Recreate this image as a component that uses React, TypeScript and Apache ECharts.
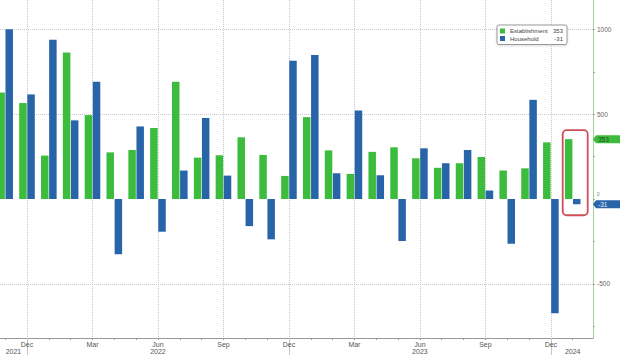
import React, { useEffect, useRef } from 'react';
import * as echarts from 'echarts';

// Monthly categories: Nov 2021 .. Jan 2024
const months = ['Nov','Dec','Jan','Feb','Mar','Apr','May','Jun','Jul','Aug','Sep','Oct','Nov','Dec','Jan','Feb','Mar','Apr','May','Jun','Jul','Aug','Sep','Oct','Nov','Dec','Jan'];
const quarterMonths = ['Dec', 'Mar', 'Jun', 'Sep'];
const establishment = [628,566,256,864,495,275,289,419,691,244,258,364,260,136,483,287,148,278,305,240,184,211,248,168,181,334,353];
const household = [1001,617,940,464,691,-326,428,-193,168,478,138,-160,-238,815,850,152,522,140,-248,299,211,289,50,-264,585,-674,-31];
const seriesNames = ['Establishment', 'Household'];
const yearLabels = ['2021', '2022', '2023', '2024'];
const yearLabelPositions = [0.38, 7, 19, 26];
const yLabelValues = [-500, 0, 500, 1000];
const yTickValues = [-750, -500, -250, 0, 250, 500, 750, 1000];
const yGridValues = [-500, 500, 1000];

const GREEN = '#3cbc3c';
const BLUE = '#2865a8';
const FONT = 'Liberation Sans';

export default function App() {
  const ref = useRef<HTMLDivElement>(null);
  useEffect(() => {
    if (!ref.current) return;
    const chart = echarts.init(ref.current, undefined, { renderer: 'svg' });
    const idx = months.map((_, i) => i);
    const quarterIdx = idx.filter((i) => quarterMonths.includes(months[i]));
    const yearSepIdx = idx.filter((i) => months[i] === 'Dec');
    const xMin = -0.237;
    const xMax = 26.93;
    const yMin = -820;
    const yMax = 1174;
    const last = months.length - 1;
    const lastVals: Record<string, number> = {
      Establishment: establishment[last],
      Household: household[last],
    };

    chart.setOption({
      animation: false,
      grid: { left: 0, right: 27, top: 0, bottom: 17, containLabel: false },
      legend: {
        data: seriesNames,
        orient: 'vertical',
        left: 497,
        top: 25,
        itemWidth: 5,
        itemHeight: 5,
        itemGap: 1.5,
        icon: 'rect',
        padding: [3, 4, 3, 3],
        backgroundColor: '#fff',
        borderColor: '#999',
        borderWidth: 1,
        borderRadius: 2,
        shadowColor: 'rgba(0,0,0,0.15)',
        shadowBlur: 2,
        shadowOffsetY: 1,
        formatter: (name: string) => `{n|${name}}{v|${lastVals[name]}}`,
        textStyle: {
          fontFamily: FONT,
          fontSize: 6,
          color: '#444',
          rich: {
            n: { width: 42, fontSize: 6, fontFamily: FONT, color: '#444' },
            v: { width: 11, align: 'right', fontSize: 6, fontFamily: FONT, color: '#444' },
          },
        },
      },
      xAxis: [
        {
          type: 'value',
          position: 'bottom',
          min: xMin,
          max: xMax,
          axisLine: { show: true, onZero: false, lineStyle: { color: '#999', width: 1 } },
          axisTick: { show: false, customValues: quarterIdx },
          axisLabel: {
            customValues: quarterIdx,
            formatter: (v: number) => months[Math.round(v)] ?? '',
            fontSize: 7,
            fontFamily: FONT,
            color: '#555',
            margin: 3,
          },
          splitLine: { show: true, lineStyle: { type: 'dotted', color: '#c8c8c8', width: 1 } },
        },
        {
          type: 'value',
          position: 'bottom',
          min: xMin,
          max: xMax,
          axisLine: { show: false, onZero: false },
          axisTick: { show: true, customValues: idx, length: 2, lineStyle: { color: '#999' } },
          axisLabel: { show: false },
          splitLine: { show: false },
        },
        {
          type: 'value',
          position: 'bottom',
          min: xMin,
          max: xMax,
          axisLine: { show: false, onZero: false },
          axisTick: { show: true, customValues: yearSepIdx, length: 17, lineStyle: { color: '#c4c4c4' } },
          axisLabel: {
            customValues: yearLabelPositions,
            formatter: (v: number) => {
              const k = yearLabelPositions.findIndex((p) => Math.abs(p - v) < 0.01);
              return k >= 0 ? yearLabels[k] : '';
            },
            fontSize: 7,
            fontFamily: FONT,
            color: '#555',
            margin: 10,
          },
          splitLine: { show: false },
        },
      ],
      yAxis: [
        {
          type: 'value',
          position: 'right',
          min: yMin,
          max: yMax,
          axisLine: { show: true, onZero: false, lineStyle: { color: '#a9c9a2', width: 1 } },
          axisTick: { show: true, customValues: yTickValues, length: 2, lineStyle: { color: '#aaa' } },
          axisLabel: {
            customValues: yLabelValues,
            formatter: (v: number) => (v === 0 ? '{z|0}' : String(v)),
            fontSize: 6.5,
            fontFamily: FONT,
            color: '#666',
            margin: 4,
            rich: {
              z: { fontSize: 4.5, fontFamily: FONT, color: '#777', padding: [0, 0, 10, 0] },
            },
          },
          splitLine: { show: false },
        },
        {
          type: 'value',
          position: 'right',
          min: yMin,
          max: yMax,
          axisLine: { show: false, onZero: false },
          axisTick: { show: false, customValues: yGridValues },
          axisLabel: { show: false },
          splitLine: { show: true, lineStyle: { type: 'dotted', color: '#c8c8c8', width: 1 } },
        },
      ],
      series: [
        {
          name: seriesNames[0],
          type: 'bar',
          xAxisIndex: 0,
          yAxisIndex: 0,
          barWidth: 7.5,
          barGap: '8%',
          itemStyle: { color: GREEN },
          data: establishment.map((v, i) => [i, v]),
        },
        {
          name: seriesNames[1],
          type: 'bar',
          xAxisIndex: 0,
          yAxisIndex: 0,
          barWidth: 7.5,
          barGap: '8%',
          itemStyle: { color: BLUE },
          data: household.map((v, i) => [i, v]),
        },
      ],
    });

    const xRight = chart.convertToPixel({ xAxisIndex: 0 }, xMax) as number;
    const cx = chart.convertToPixel({ xAxisIndex: 0 }, last) as number;
    const yEst = chart.convertToPixel({ yAxisIndex: 0 }, establishment[last]) as number;
    const yHh = chart.convertToPixel({ yAxisIndex: 0 }, household[last]) as number;
    const tag = (y: number, fill: string, text: string, textColor: string) => [
      {
        type: 'polygon',
        z: 100,
        shape: {
          points: [
            [xRight, y],
            [xRight + 3, y - 4],
            [620, y - 4],
            [620, y + 4],
            [xRight + 3, y + 4],
          ],
        },
        style: { fill },
      },
      {
        type: 'text',
        z: 101,
        x: xRight + 5,
        y,
        style: {
          text,
          fill: textColor,
          font: `6.5px "${FONT}"`,
          textVerticalAlign: 'middle',
          verticalAlign: 'middle',
        },
      },
    ];

    chart.setOption({
      graphic: [
        {
          type: 'rect',
          z: 100,
          shape: { x: cx - 10, y: yEst - 9, width: 25, height: yHh - yEst + 20, r: 4 },
          style: { fill: 'none', stroke: '#cf4e58', lineWidth: 1.8 },
        },
        ...tag(yEst, GREEN, String(establishment[last]), '#1d4d1d'),
        ...tag(yHh, BLUE, String(household[last]), '#e8eef8'),
      ],
    });

    return () => chart.dispose();
  }, []);

  return (
    <div
      ref={ref}
      style={{ position: 'absolute', left: 0, top: 0, width: 620, height: 355, background: '#fff' }}
    />
  );
}
